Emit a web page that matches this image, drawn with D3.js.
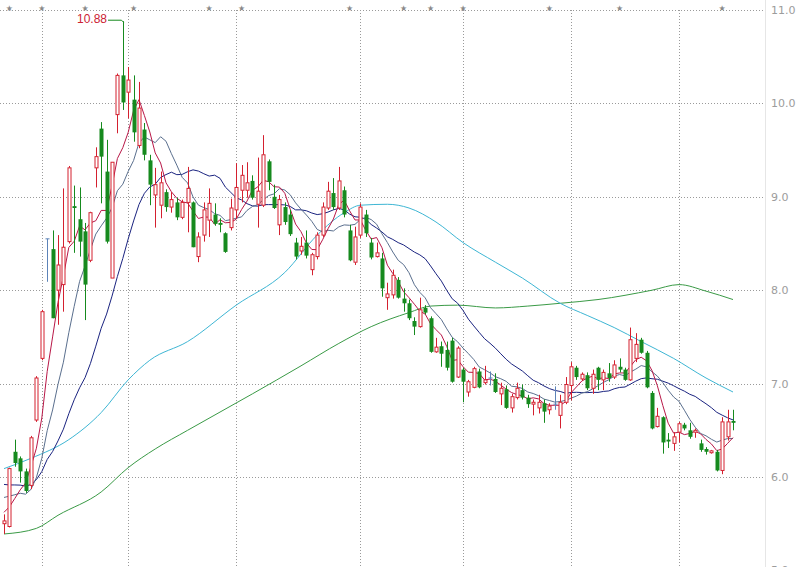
<!DOCTYPE html>
<html><head><meta charset="utf-8">
<script src="https://cdn.jsdelivr.net/npm/d3@7"></script>
<style>body{margin:0;background:#fff}svg{display:block}</style>
</head><body>
<svg id="c" width="802" height="567"></svg>
<script>
// ---- data ----
const opens  = [5.50,5.47,6.27,6.20,6.06,5.91,6.61,7.27,8.55,8.44,8.00,8.06,8.52,8.90,8.76,8.63,8.32,9.31,9.73,9.27,8.13,9.88,10.30,10.12,10.04,9.55,9.72,9.39,9.02,8.91,9.05,8.89,8.94,8.78,8.94,8.94,8.36,8.59,8.75,8.81,8.72,8.61,8.67,8.86,9.07,9.07,9.17,8.92,8.91,9.38,9.00,8.70,8.89,8.81,8.51,8.42,8.51,8.22,8.36,8.59,8.88,9.04,8.88,9.07,8.64,8.30,8.59,8.81,8.51,8.36,8.34,7.92,7.95,8.11,7.91,7.86,7.67,7.61,7.81,7.70,7.34,7.40,7.36,7.46,7.07,7.15,6.91,6.96,7.13,7.01,7.06,7.05,6.89,6.94,6.74,6.85,6.93,6.85,6.78,6.74,6.79,6.72,6.78,6.66,6.80,6.98,7.17,7.05,7.09,6.95,7.17,7.04,7.11,7.07,7.18,7.15,7.04,7.27,7.47,7.33,6.90,6.54,6.64,6.40,6.36,6.48,6.56,6.50,6.48,6.36,6.30,6.26,6.27,6.07,6.43,6.60];
const highs  = [5.60,6.10,6.40,6.22,6.09,6.44,7.08,7.79,8.55,8.64,8.59,9.09,9.33,9.12,9.10,8.72,8.84,9.53,9.80,9.61,9.37,10.32,10.88,10.39,10.30,10.23,9.79,9.45,9.31,9.27,9.08,9.05,8.99,8.97,9.32,8.95,8.62,8.94,9.09,8.93,8.77,8.62,8.98,9.36,9.34,9.37,9.23,9.42,9.66,9.40,9.13,9.02,8.94,8.86,8.56,8.57,8.64,8.40,8.62,8.94,9.16,9.20,9.32,9.11,8.70,8.68,8.93,8.86,8.56,8.51,8.40,8.08,8.22,8.14,8.02,7.90,7.71,7.92,7.84,7.72,7.49,7.45,7.45,7.49,7.40,7.17,7.04,7.18,7.16,7.19,7.13,7.11,7.01,6.98,6.89,7.01,6.99,6.88,6.83,6.88,6.83,6.79,6.97,6.88,7.07,7.23,7.19,7.12,7.12,7.15,7.18,7.15,7.22,7.25,7.27,7.17,7.60,7.54,7.49,7.35,6.92,6.74,6.65,6.47,6.48,6.59,6.58,6.58,6.52,6.40,6.32,6.29,6.29,6.64,6.72,6.72];
const lows   = [5.39,5.46,6.11,5.94,5.83,5.87,6.59,7.25,8.09,7.70,7.63,7.77,8.50,8.40,8.36,7.68,8.30,9.10,8.93,8.50,8.13,9.68,9.93,9.84,9.59,9.52,9.39,8.91,8.67,8.77,8.84,8.83,8.75,8.76,8.62,8.46,8.30,8.52,8.57,8.69,8.62,8.40,8.64,8.77,8.94,8.99,8.97,8.67,8.89,9.07,8.87,8.59,8.70,8.58,8.33,8.38,8.34,8.16,8.33,8.57,8.86,8.86,8.86,8.78,8.31,8.27,8.56,8.57,8.33,8.35,7.93,7.79,7.91,7.91,7.77,7.68,7.52,7.60,7.74,7.33,7.33,7.18,7.14,7.01,7.06,6.80,6.86,6.95,6.95,6.99,6.98,6.90,6.77,6.73,6.69,6.83,6.83,6.74,6.66,6.68,6.58,6.67,6.72,6.52,6.78,6.82,7.04,7.03,6.93,6.89,6.93,6.93,7.02,7.05,7.12,7.03,7.03,7.23,7.32,6.95,6.51,6.53,6.25,6.31,6.28,6.37,6.50,6.41,6.42,6.27,6.24,6.25,6.06,6.03,6.39,6.50];
const closes = [5.53,6.09,6.15,6.06,5.85,6.42,7.06,7.77,8.55,7.70,8.27,8.46,9.31,8.88,8.52,8.06,8.83,9.43,9.43,8.52,9.37,10.30,10.01,10.25,9.69,9.95,9.45,9.13,9.13,9.15,8.89,8.97,8.78,8.94,9.09,8.46,8.57,8.86,8.93,8.71,8.70,8.41,8.88,9.10,9.23,9.15,8.99,9.06,9.45,9.16,8.88,8.97,8.73,8.60,8.36,8.47,8.37,8.38,8.59,8.89,9.06,8.89,9.17,8.81,8.32,8.57,8.89,8.61,8.35,8.40,8.02,7.96,8.16,7.92,7.86,7.70,7.61,7.79,7.76,7.34,7.39,7.32,7.17,7.02,7.38,7.02,7.02,7.16,6.96,7.04,7.06,6.91,6.95,6.74,6.86,6.95,6.85,6.78,6.80,6.80,6.70,6.76,6.78,6.80,6.99,7.18,7.07,7.10,6.95,7.10,7.04,7.12,7.06,7.20,7.15,7.04,7.47,7.42,7.33,6.96,6.52,6.65,6.37,6.38,6.43,6.57,6.52,6.43,6.50,6.29,6.27,6.28,6.07,6.59,6.59,6.58];
// closes before the first visible day (estimated, used only for the short moving averages)
const priorCloses = [6.20,6.15,6.10,6.05,6.10,6.00,6.05,5.95,6.00,6.00,5.95,6.00,5.90,5.95,5.90,5.80,5.70,5.60,5.48];
// long moving averages: [day index, value]
const ma60Points  = [[0,6.09],[5,6.20],[12,6.40],[18,6.69],[23,7.04],[27,7.25],[34,7.45],[43,7.84],[52,8.19],[58,8.59],[63,8.83],[66,8.91],[71,8.92],[75,8.88],[80,8.73],[85,8.51],[91,8.30],[96,8.13],[103,7.86],[108,7.73],[113,7.60],[118,7.45],[124,7.27],[130,7.06],[135,6.91]];
const ma120Points = [[0,5.39],[6,5.45],[10,5.59],[18,5.84],[23,6.10],[28,6.30],[34,6.50],[46,6.89],[55,7.19],[62,7.43],[68,7.61],[75,7.76],[79,7.83],[84,7.84],[91,7.81],[97,7.83],[103,7.86],[110,7.90],[120,8.00],[125,8.06],[130,7.99],[135,7.90]];
const monthStartIdx = [7,23,43,66,85,105,125];
const markerIdx = [1,7,15,24,38,44,64,74,79,85,101,114,133];
const yTicks = [5,6,7,8,9,10,11];
const peakIdx = 22;
const peakLabel = "10.88";

// ---- drawing ----
const W = 802, H = 567;
const svg = d3.select("#c");
const x = d3.scaleLinear().domain([0, closes.length - 1]).range([4, 733]);
const y = d3.scaleLinear().domain([5, 11]).range([570.4, 10]);
const plotRight = 765;

const RED = "#d4202f", GREEN = "#168a1e", DOJI = "#5d83b8";

// grid
const grid = svg.append("g");
grid.selectAll("line.h").data(yTicks).join("line")
  .attr("x1", 0).attr("x2", plotRight)
  .attr("y1", d => Math.round(y(d)) + 0.5).attr("y2", d => Math.round(y(d)) + 0.5)
  .attr("stroke", "#9a9a9a").attr("stroke-dasharray", "1,2");
grid.selectAll("line.v").data(monthStartIdx).join("line")
  .attr("x1", d => Math.round(x(d)) + 0.5).attr("x2", d => Math.round(x(d)) + 0.5)
  .attr("y1", y(11)).attr("y2", H)
  .attr("stroke", "#9a9a9a").attr("stroke-dasharray", "1,2");

// right separator
svg.append("line").attr("x1", plotRight + 0.5).attr("x2", plotRight + 0.5)
  .attr("y1", 0).attr("y2", H).attr("stroke", "#e6e6e6");

// y axis
const yAxis = d3.axisRight(y).tickValues(yTicks).tickFormat(d3.format(".1f")).tickSize(0).tickPadding(6);
const ga = svg.append("g").attr("transform", `translate(${plotRight},0)`).call(yAxis);
ga.select(".domain").remove();
ga.selectAll("text").attr("fill", "#9c9c9c").attr("font-family", "DejaVu Sans").attr("font-size", 11);

// markers
svg.append("g").selectAll("text").data(markerIdx).join("text")
  .attr("x", d => x(d)).attr("y", 8).attr("text-anchor", "middle").attr("dominant-baseline", "middle")
  .attr("font-size", 8).attr("fill", "#8a8a8a").attr("font-family", "DejaVu Sans").text("\u2605");

// moving averages
const allCloses = priorCloses.concat(closes);
const P = priorCloses.length;
function ma(n) {
  return closes.map((_, i) => d3.mean(allCloses.slice(P + i - n + 1, P + i + 1)));
}
const lineIdx = d3.line().x((d, i) => x(i)).y(d => y(d));
const linePts = d3.line().x(d => x(d[0])).y(d => y(d[1])).curve(d3.curveMonotoneX);
const maG = svg.append("g").attr("fill", "none").attr("stroke-width", 1);
maG.append("path").attr("d", linePts(ma120Points)).attr("stroke", "#3a9a46");
maG.append("path").attr("d", linePts(ma60Points)).attr("stroke", "#3eb6d4");
maG.append("path").attr("d", lineIdx(ma(20))).attr("stroke", "#1a2380");
maG.append("path").attr("d", lineIdx(ma(10))).attr("stroke", "#5a6f8e");
maG.append("path").attr("d", lineIdx(ma(5))).attr("stroke", "#b81747");

// candles
const cg = svg.append("g");
closes.forEach((c, i) => {
  const o = opens[i], h = highs[i], l = lows[i];
  const cx = Math.round(x(i));
  const wx = cx + 0.5;
  const top = y(Math.max(o, c)), bot = y(Math.min(o, c));
  if (Math.abs(c - o) < 0.005) {
    cg.append("line").attr("x1", wx).attr("x2", wx).attr("y1", y(h)).attr("y2", y(l)).attr("stroke", DOJI);
    cg.append("line").attr("x1", cx - 1.5).attr("x2", cx + 2.5).attr("y1", top).attr("y2", top).attr("stroke", DOJI);
  } else if (c > o) {
    cg.append("line").attr("x1", wx).attr("x2", wx).attr("y1", y(h)).attr("y2", top).attr("stroke", RED);
    cg.append("line").attr("x1", wx).attr("x2", wx).attr("y1", bot).attr("y2", y(l)).attr("stroke", RED);
    cg.append("rect").attr("x", cx - 1).attr("y", top).attr("width", 3).attr("height", Math.max(1, bot - top))
      .attr("fill", "#fff").attr("stroke", RED).attr("stroke-width", 1);
  } else {
    cg.append("line").attr("x1", wx).attr("x2", wx).attr("y1", y(h)).attr("y2", y(l)).attr("stroke", GREEN);
    cg.append("rect").attr("x", cx - 1.5).attr("y", top).attr("width", 4).attr("height", Math.max(1, bot - top))
      .attr("fill", GREEN);
  }
});

// peak annotation
const px = Math.round(x(peakIdx)) + 0.5, py = y(highs[peakIdx]);
svg.append("path").attr("d", `M108,${py - 1} H${px - 2} L${px},${py + 1}`)
  .attr("fill", "none").attr("stroke", GREEN).attr("stroke-width", 1);
svg.append("text").attr("x", 107).attr("y", py - 1).attr("text-anchor", "end").attr("dominant-baseline", "middle")
  .attr("font-family", "Liberation Sans, Arial").attr("font-size", 12).attr("fill", "#cc2233").text(peakLabel);
</script>
</body></html>
